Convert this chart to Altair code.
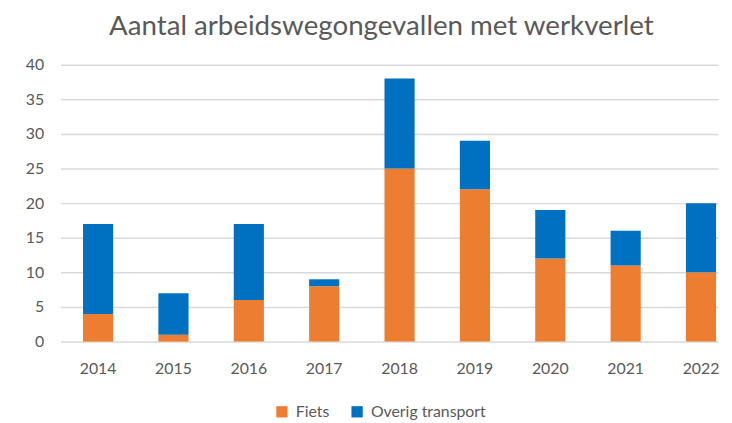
import altair as alt
import pandas as pd

years = ["2014", "2015", "2016", "2017", "2018", "2019", "2020", "2021", "2022"]
fiets = [4, 1, 6, 8, 25, 22, 12, 11, 10]
overig = [13, 6, 11, 1, 13, 7, 7, 5, 10]
series = ["Fiets", "Overig transport"]
colors = ["#ED7D31", "#0070C0"]

rows = []
for i, y in enumerate(years):
    rows.append({"jaar": y, "serie": series[0], "waarde": fiets[i], "volg": 0})
    rows.append({"jaar": y, "serie": series[1], "waarde": overig[i], "volg": 1})
df = pd.DataFrame(rows)

FONT = "Lato"
GRAY = "#595959"

chart = alt.Chart(df).mark_bar().encode(
    x=alt.X("jaar:N", sort=years, title=None,
            scale=alt.Scale(paddingInner=0.6, paddingOuter=0.163, align=0.92),
            axis=alt.Axis(labelAngle=0, ticks=False, domain=False, grid=False,
                          labelPadding=19, labelFontSize=16, labelColor=GRAY, labelFont=FONT)),
    y=alt.Y("waarde:Q", stack="zero", title=None,
            scale=alt.Scale(domain=[0, 40], nice=False),
            axis=alt.Axis(values=list(range(0, 41, 5)), ticks=False, domain=False,
                          gridColor="#D9D9D9", gridWidth=1.5, labelPadding=17,
                          labelFontSize=16, labelColor=GRAY, labelFont=FONT)),
    color=alt.Color("serie:N", sort=series,
                    scale=alt.Scale(domain=series, range=colors),
                    legend=alt.Legend(title=None, orient="none", direction="horizontal",
                                      legendX=216, legendY=343, symbolType="square",
                                      symbolSize=130, symbolStrokeWidth=0,
                                      labelFontSize=16, labelColor=GRAY, labelFont=FONT,
                                      columnPadding=20, labelOffset=6)),
    order=alt.Order("volg:Q"),
).properties(
    width=665, height=280,
    padding={"left": 53, "top": 55, "right": 6, "bottom": 80},
    autosize=alt.AutoSizeParams(type="none"),
    title=alt.Title("Aantal arbeidswegongevallen met werkverlet", fontSize=28,
                    font=FONT, fontWeight="normal", color=GRAY, anchor="middle",
                    dx=-8, offset=16),
).configure_view(stroke=None)

chart.save("out.html", embed_options={"renderer": "svg", "actions": False})
